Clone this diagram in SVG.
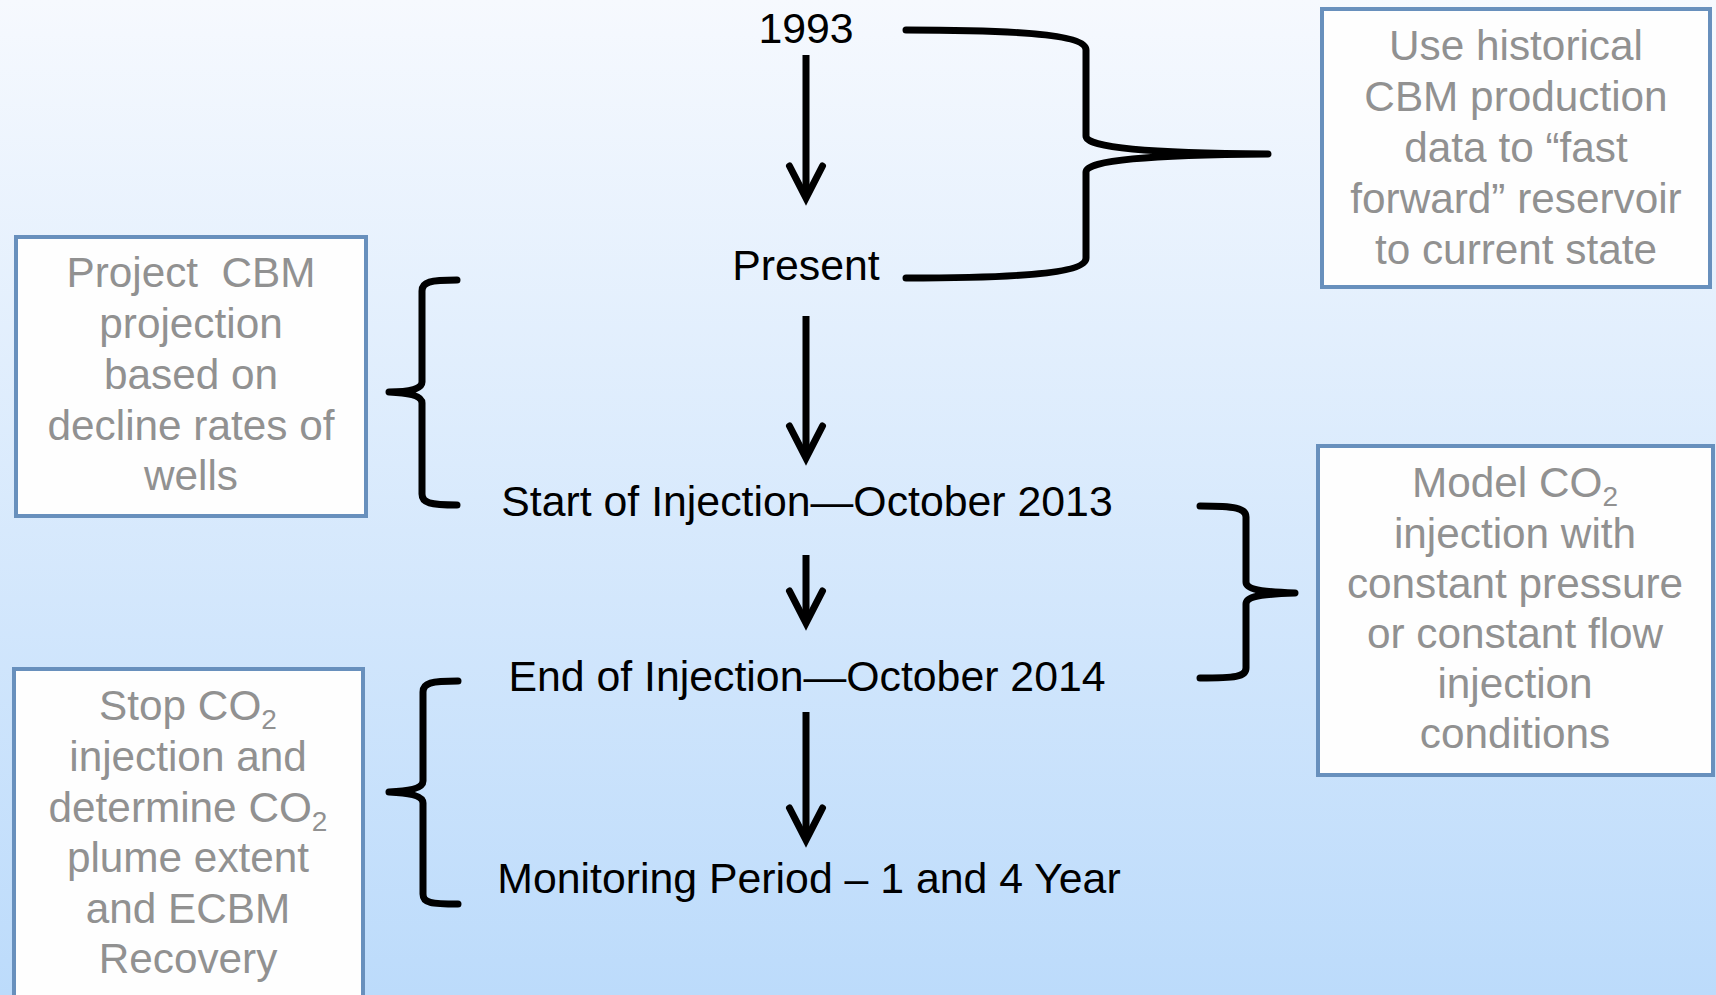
<svg xmlns="http://www.w3.org/2000/svg" width="1716" height="995" viewBox="0 0 1716 995">
<style>
.main{font-family:"Liberation Sans",Arial,sans-serif;font-size:42.8px;fill:#000;text-anchor:middle}
.note{font-family:"Liberation Sans",Arial,sans-serif;font-size:42.3px;fill:#919191;text-anchor:middle;white-space:pre}
.sub{font-size:28px}
.box{fill:#fefefe;stroke:#6890bd;stroke-width:4}
.brace{fill:none;stroke:#000;stroke-width:7;stroke-linecap:round;stroke-linejoin:round}
.arrow{fill:none;stroke:#000;stroke-width:7;marker-end:url(#chev)}
</style>
<defs>
<linearGradient id="bg" x1="0" y1="0" x2="0" y2="1">
<stop offset="0" stop-color="#f6f9fe"/>
<stop offset="1" stop-color="#bcdbfb"/>
</linearGradient>
<marker id="chev" markerUnits="userSpaceOnUse" markerWidth="60" markerHeight="60" viewBox="-45 -30 60 60" refX="0" refY="0" orient="auto" overflow="visible">
<path d="M -32,-16.5 L 0,0 L -32,16.5" fill="none" stroke="#000" stroke-width="7" stroke-linecap="round" stroke-linejoin="miter" stroke-miterlimit="10"/>
</marker>
</defs>
<rect x="0" y="0" width="1716" height="995" fill="url(#bg)"/>

<g id="connectors">
<line class="arrow" x1="806" y1="55" x2="806" y2="198"/>
<line class="arrow" x1="806" y1="316" x2="806" y2="458"/>
<line class="arrow" x1="806" y1="555" x2="806" y2="623"/>
<line class="arrow" x1="806" y1="712" x2="806" y2="840"/>
<path class="brace" d="M 906,30 C 1010,30 1086,34 1086,50 L 1086,136 C 1086,148 1150,153 1268,154 C 1150,155 1086,160 1086,172 L 1086,258 C 1086,274 1010,278 906,278"/>
<path class="brace" d="M 457,280 C 430,280 422,282 422,291 L 422,382 C 422,389 410,392 389,392 C 410,393 422,396 422,403 L 422,494 C 422,503 430,505 457,505"/>
<path class="brace" d="M 1200,506 C 1235,506 1246,508 1246,517 L 1246,582 C 1246,589 1260,592 1295,593 C 1260,594 1246,597 1246,604 L 1246,668 C 1246,677 1235,678 1200,678"/>
<path class="brace" d="M 458,681 C 431,681 423,683 423,692 L 423,781 C 423,788 410,791 389,792 C 410,793 423,796 423,803 L 423,894 C 423,903 431,904 458,904"/>
</g>

<g id="n1993"><text class="main" x="806" y="43">1993</text></g>
<g id="nPresent"><text class="main" x="806" y="280">Present</text></g>
<g id="nStart"><text class="main" x="807" y="516">Start of Injection—October 2013</text></g>
<g id="nEnd"><text class="main" x="807" y="691">End of Injection—October 2014</text></g>
<g id="nMonitoring"><text class="main" x="809" y="893">Monitoring Period – 1 and 4 Year</text></g>

<g id="noteHistory">
<rect class="box" x="1322" y="9" width="388" height="278"/>
<text class="note" x="1516" y="60">Use historical</text>
<text class="note" x="1516" y="111">CBM production</text>
<text class="note" x="1516" y="162">data to “fast</text>
<text class="note" x="1516" y="213">forward” reservoir</text>
<text class="note" x="1516" y="264">to current state</text>
</g>

<g id="noteProjection">
<rect class="box" x="16" y="237" width="350" height="279"/>
<text class="note" x="191" y="287">Project  CBM</text>
<text class="note" x="191" y="338">projection</text>
<text class="note" x="191" y="389">based on</text>
<text class="note" x="191" y="440">decline rates of</text>
<text class="note" x="191" y="490">wells</text>
</g>

<g id="noteModel">
<rect class="box" x="1318" y="446" width="395" height="329"/>
<text class="note" x="1515" y="497">Model CO<tspan class="sub" dy="9">2</tspan></text>
<text class="note" x="1515" y="548">injection with</text>
<text class="note" x="1515" y="598">constant pressure</text>
<text class="note" x="1515" y="648">or constant flow</text>
<text class="note" x="1515" y="698">injection</text>
<text class="note" x="1515" y="748">conditions</text>
</g>

<g id="noteStop">
<rect class="box" x="14" y="669" width="349" height="340"/>
<text class="note" x="188" y="720">Stop CO<tspan class="sub" dy="9">2</tspan></text>
<text class="note" x="188" y="771">injection and</text>
<text class="note" x="188" y="822">determine CO<tspan class="sub" dy="9">2</tspan></text>
<text class="note" x="188" y="872">plume extent</text>
<text class="note" x="188" y="923">and ECBM</text>
<text class="note" x="188" y="973">Recovery</text>
</g>
</svg>
